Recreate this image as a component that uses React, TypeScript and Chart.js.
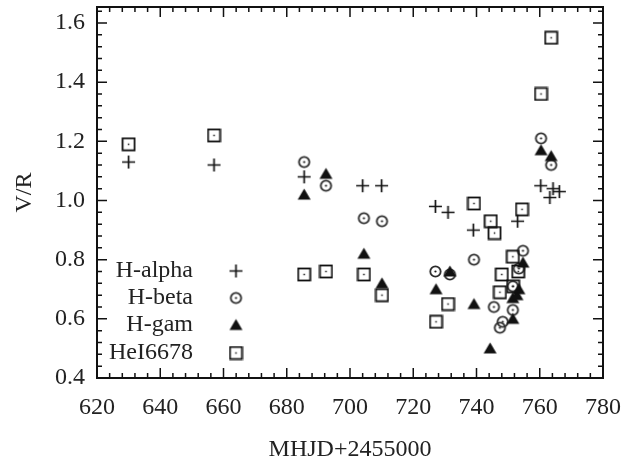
import React, { useEffect, useRef } from "react";
import { Chart, registerables } from "chart.js";

Chart.register(...registerables);

// ---- data (MHJD+2455000, V/R) ----
const seriesNames = ["H-alpha", "H-beta", "H-gam", "HeI6678"];

const halphaX = [630, 657, 685.5, 704, 710, 727, 731, 739, 753, 760.3, 763.2, 764.2, 766.2];
const halphaY = [1.13, 1.12, 1.08, 1.05, 1.05, 0.98, 0.96, 0.90, 0.93, 1.05, 1.01, 1.04, 1.03];

const hbetaX = [685.5, 692.4, 704.4, 710.1, 727, 731.6, 739.2, 745.5, 747.4, 748.3, 751.5, 751.5, 753.4, 754.7, 760.4, 763.6];
const hbetaY = [1.13, 1.05, 0.94, 0.93, 0.76, 0.75, 0.80, 0.64, 0.57, 0.59, 0.63, 0.71, 0.77, 0.83, 1.21, 1.12];

const hgamX = [685.5, 692.4, 704.4, 710.1, 727.2, 731.6, 739.2, 744.3, 751.5, 751.5, 752.8, 753.4, 754.7, 760.4, 763.6];
const hgamY = [1.02, 1.09, 0.82, 0.72, 0.70, 0.76, 0.65, 0.50, 0.60, 0.67, 0.68, 0.70, 0.79, 1.17, 1.15];

const heiX = [630, 657, 685.5, 692.4, 704.4, 710.1, 727.2, 731, 739.2, 744.5, 745.7, 747.4, 748, 751.5, 751.6, 753.2, 754.4, 760.4, 763.6];
const heiY = [1.19, 1.22, 0.75, 0.76, 0.75, 0.68, 0.59, 0.65, 0.99, 0.93, 0.89, 0.69, 0.75, 0.81, 0.71, 0.76, 0.97, 1.36, 1.55];

const xTicks = [620, 640, 660, 680, 700, 720, 740, 760, 780];
const yTicks = [0.4, 0.6, 0.8, 1.0, 1.2, 1.4, 1.6];

const FONT_FAMILY = "'Liberation Serif', 'Times New Roman', serif";
const TEXT_COLOR = "#222";
const INK = "#111";

type Kind = "cross" | "circle" | "triangle" | "square";

function makeSymbol(kind: Kind): HTMLCanvasElement {
  const c = document.createElement("canvas");
  const s = 15;
  c.width = s;
  c.height = s;
  const ctx = c.getContext("2d")!;
  const m = s / 2;
  ctx.strokeStyle = INK;
  ctx.fillStyle = INK;
  if (kind === "cross") {
    ctx.lineWidth = 1.7;
    ctx.beginPath();
    ctx.moveTo(m - 6.5, m);
    ctx.lineTo(m + 6.5, m);
    ctx.moveTo(m, m - 6.5);
    ctx.lineTo(m, m + 6.5);
    ctx.stroke();
  } else if (kind === "circle") {
    ctx.strokeStyle = "#2a2a2a";
    ctx.lineWidth = 1.8;
    ctx.beginPath();
    ctx.arc(m, m, 5.2, 0, Math.PI * 2);
    ctx.stroke();
    ctx.beginPath();
    ctx.arc(m, m, 1.1, 0, Math.PI * 2);
    ctx.fill();
  } else if (kind === "triangle") {
    ctx.beginPath();
    ctx.moveTo(m, m - 6);
    ctx.lineTo(m + 6.5, m + 5);
    ctx.lineTo(m - 6.5, m + 5);
    ctx.closePath();
    ctx.fill();
  } else {
    ctx.lineWidth = 1.8;
    ctx.strokeRect(m - 6, m - 6, 12, 12);
    ctx.fillRect(m - 0.75, m - 0.75, 1.5, 1.5);
  }
  return c;
}

function toPoints(xs: number[], ys: number[]) {
  return xs.map((x, i) => ({ x, y: ys[i] }));
}

export default function App() {
  const ref = useRef<HTMLCanvasElement | null>(null);

  useEffect(() => {
    document.body.style.margin = "0";
    const canvas = ref.current;
    if (!canvas) return;

    const symbols: HTMLCanvasElement[] = [
      makeSymbol("cross"),
      makeSymbol("circle"),
      makeSymbol("triangle"),
      makeSymbol("square"),
    ];

    const font = { family: FONT_FAMILY, size: 24, weight: "normal" as const };

    const framePlugin = {
      id: "frame",
      afterDraw(chart: any) {
        const { ctx, chartArea } = chart;
        const xs = chart.scales.x;
        const ys = chart.scales.y;
        const { left, right, top, bottom } = chartArea;
        ctx.save();
        ctx.strokeStyle = INK;
        ctx.lineWidth = 1.5;
        ctx.beginPath();
        // x ticks
        for (let v = 620; v <= 780 + 1e-6; v += 4) {
          const px = xs.getPixelForValue(v);
          const major = Math.abs((v - 620) % 20) < 1e-6;
          const len = major ? 10 : 5;
          ctx.moveTo(px, bottom);
          ctx.lineTo(px, bottom - len);
          ctx.moveTo(px, top);
          ctx.lineTo(px, top + len);
        }
        // y ticks
        for (let i = 0; i <= 31; i++) {
          const v = 0.4 + i * 0.04;
          if (v > 1.654) break;
          const py = ys.getPixelForValue(v);
          const major = i % 5 === 0;
          const len = major ? 10 : 5;
          ctx.moveTo(left, py);
          ctx.lineTo(left + len, py);
          ctx.moveTo(right, py);
          ctx.lineTo(right - len, py);
        }
        ctx.stroke();
        ctx.lineWidth = 2;
        ctx.strokeRect(left, top, right - left, bottom - top);

        // legend (text right-aligned, symbol to the right)
        ctx.font = `24px ${FONT_FAMILY}`;
        ctx.fillStyle = TEXT_COLOR;
        ctx.textAlign = "right";
        ctx.textBaseline = "middle";
        const ly = [271, 298, 325, 353];
        seriesNames.forEach((name, i) => {
          ctx.fillText(name, 193, ly[i]);
          const sym = symbols[i];
          ctx.drawImage(sym, 236 - sym.width / 2, ly[i] - sym.height / 2);
        });
        ctx.restore();
      },
    };

    const chart = new Chart(canvas, {
      type: "scatter",
      data: {
        datasets: [
          { label: seriesNames[0], data: toPoints(halphaX, halphaY), pointStyle: symbols[0], pointRadius: 6, order: 4 },
          { label: seriesNames[1], data: toPoints(hbetaX, hbetaY), pointStyle: symbols[1], pointRadius: 6, order: 3 },
          { label: seriesNames[2], data: toPoints(hgamX, hgamY), pointStyle: symbols[2], pointRadius: 6, order: 2 },
          { label: seriesNames[3], data: toPoints(heiX, heiY), pointStyle: symbols[3], pointRadius: 6, order: 1 },
        ] as any,
      },
      options: {
        animation: false,
        responsive: false,
        maintainAspectRatio: false,
        layout: { padding: { top: 7, right: 18, left: 0, bottom: 0 } },
        plugins: {
          legend: { display: false },
          tooltip: { enabled: false },
        },
        scales: {
          x: {
            type: "linear",
            min: 620,
            max: 780,
            grid: { display: false, drawTicks: false },
            border: { display: false },
            afterBuildTicks: (s: any) => {
              s.ticks = xTicks.map((v) => ({ value: v }));
            },
            afterFit: (s: any) => {
              s.height = 84;
              s.paddingLeft = 0;
              s.paddingRight = 0;
            },
            ticks: {
              font,
              color: TEXT_COLOR,
              padding: 15,
              maxRotation: 0,
              autoSkip: false,
              callback: (v: any) => String(v),
            },
            title: {
              display: true,
              text: "MHJD+2455000",
              font,
              color: TEXT_COLOR,
              padding: { top: 0, bottom: -2 },
            },
          },
          y: {
            type: "linear",
            min: 0.4,
            max: 1.654,
            grid: { display: false, drawTicks: false },
            border: { display: false },
            afterBuildTicks: (s: any) => {
              s.ticks = yTicks.map((v) => ({ value: v }));
            },
            afterFit: (s: any) => {
              s.width = 97;
              s.paddingTop = 0;
              s.paddingBottom = 0;
            },
            ticks: {
              font,
              color: TEXT_COLOR,
              padding: 12,
              autoSkip: false,
              callback: (v: any) => Number(v).toFixed(1),
            },
            title: {
              display: true,
              text: "V/R",
              font,
              color: TEXT_COLOR,
              padding: { top: 10, bottom: 0 },
            },
          },
        },
      } as any,
      plugins: [framePlugin],
    });

    return () => {
      chart.destroy();
    };
  }, []);

  return (
    <div style={{ width: 621, height: 462, background: "#fff" }}>
      <canvas ref={ref} width={621} height={462} style={{ display: "block" }} />
    </div>
  );
}
